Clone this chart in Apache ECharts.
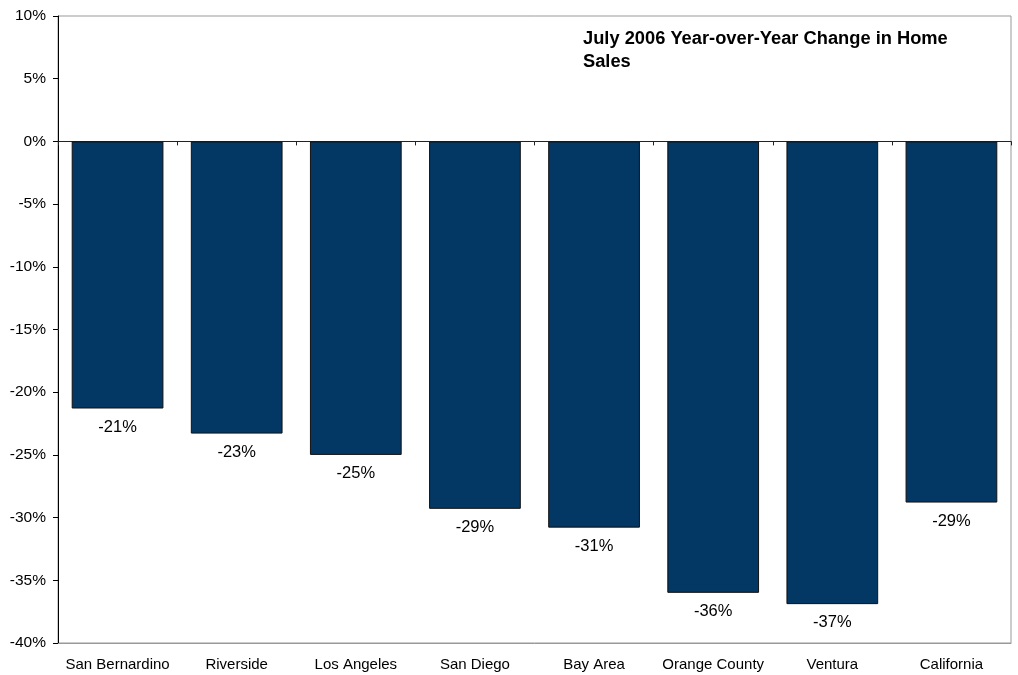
<!DOCTYPE html>
<html>
<head>
<meta charset="utf-8">
<script src="https://cdn.jsdelivr.net/npm/echarts@6/dist/echarts.min.js"></script>
<style>
html,body{margin:0;padding:0;background:#fff;}
#chart{width:1018px;height:675px;}
</style>
</head>
<body>
<div id="chart"></div>
<script>
const categories = ["San Bernardino","Riverside","Los Angeles","San Diego","Bay Area","Orange County","Ventura","California"];
const changePct = [-21.3, -23.3, -25.0, -29.3, -30.8, -36.0, -36.9, -28.8];
const labelText = ["-21%","-23%","-25%","-29%","-31%","-36%","-37%","-29%"];
const titleText = "July 2006 Year-over-Year Change in Home\nSales";

const font = "'Liberation Sans', Arial, Helvetica, sans-serif";
const chart = echarts.init(document.getElementById('chart'), null, {renderer:'canvas'});
chart.setOption({
  animation:false,
  backgroundColor:'#fff',
  title:{
    text:titleText,
    left:578, top:22,
    textStyle:{fontFamily:font,fontSize:18.3,fontWeight:'bold',color:'#000',lineHeight:23}
  },
  grid:{left:58,right:7,top:16,bottom:32,show:true,borderColor:'#999',borderWidth:1},
  xAxis:[{
    type:'category',
    data:categories,
    position:'bottom',
    axisLine:{show:true,onZero:false,lineStyle:{color:'#999',width:1}},
    axisTick:{show:false},
    axisLabel:{fontFamily:font,fontSize:15,color:'#000',margin:14,interval:0}
  },{
    type:'category',
    data:categories,
    position:'bottom',
    axisLine:{show:true,onZero:true,lineStyle:{color:'#222',width:1}},
    axisTick:{show:true,length:4,lineStyle:{color:'#222'}},
    axisLabel:{show:false}
  }],
  yAxis:{
    type:'value',
    min:-40,max:10,interval:5,
    axisLine:{show:true,lineStyle:{color:'#000',width:1}},
    axisTick:{show:true,length:5,lineStyle:{color:'#000'}},
    splitLine:{show:false},
    axisLabel:{fontFamily:font,fontSize:15.5,color:'#000',margin:12,formatter:v=>v+'%'}
  },
  series:[{
    type:'bar',
    xAxisIndex:0,
    data:changePct,
    barCategoryGap:'23%',
    itemStyle:{color:'#033764',borderColor:'#111',borderWidth:1},
    label:{
      show:true,position:'bottom',distance:10,
      fontFamily:font,fontSize:16.5,color:'#000',
      formatter:p=>labelText[p.dataIndex]
    }
  }]
});
</script>
</body>
</html>
